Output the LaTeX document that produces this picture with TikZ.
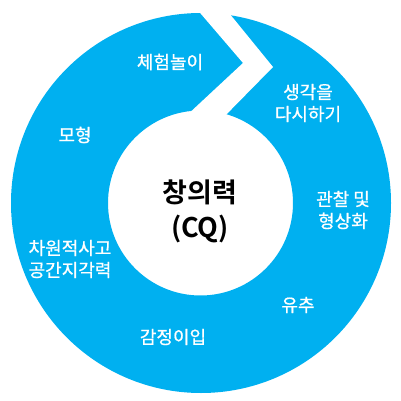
\documentclass[tikz,border=0pt]{standalone}
\usepackage{fontspec}
\newfontfamily\kr[FakeBold=0.8]{Noto Sans CJK KR}
\newfontfamily\krb{Noto Sans CJK KR Bold}
\definecolor{ringblue}{HTML}{00B0F0}
\begin{document}
\begin{tikzpicture}[x=1pt,y=-1pt,
  ringlabel/.style={text=white,font=\kr\fontsize{18}{22}\selectfont,align=center,inner sep=0pt},
  centerlabel/.style={text=black,font=\krb\fontsize{27}{35}\selectfont,align=center,inner sep=0pt}]
\useasboundingbox (0,0) rectangle (400,401);
% ring
\fill[ringblue,even odd rule] (201,203) circle[radius=190] (200.5,203) circle[radius=92.5];
% chevron gap
\fill[white] (183,-7) -- (243,63) -- (185,117) -- (218,123) -- (273,67) -- (216,-3) -- cycle;
% labels
\node[ringlabel] (n1) at (170,62) {체험놀이};
\node[ringlabel] (n2) at (308,103) {생각을\\다시하기};
\node[ringlabel] (n3) at (75,135) {모형};
\node[ringlabel] (n4) at (343,210) {관찰 및\\형상화};
\node[ringlabel] (n5) at (70,259) {차원적사고\\공간지각력};
\node[ringlabel] (n6) at (298,305) {유추};
\node[ringlabel] (n7) at (173,337) {감정이입};
\node[centerlabel] (c) at (200,211) {창의력\\(CQ)};
\end{tikzpicture}
\end{document}
